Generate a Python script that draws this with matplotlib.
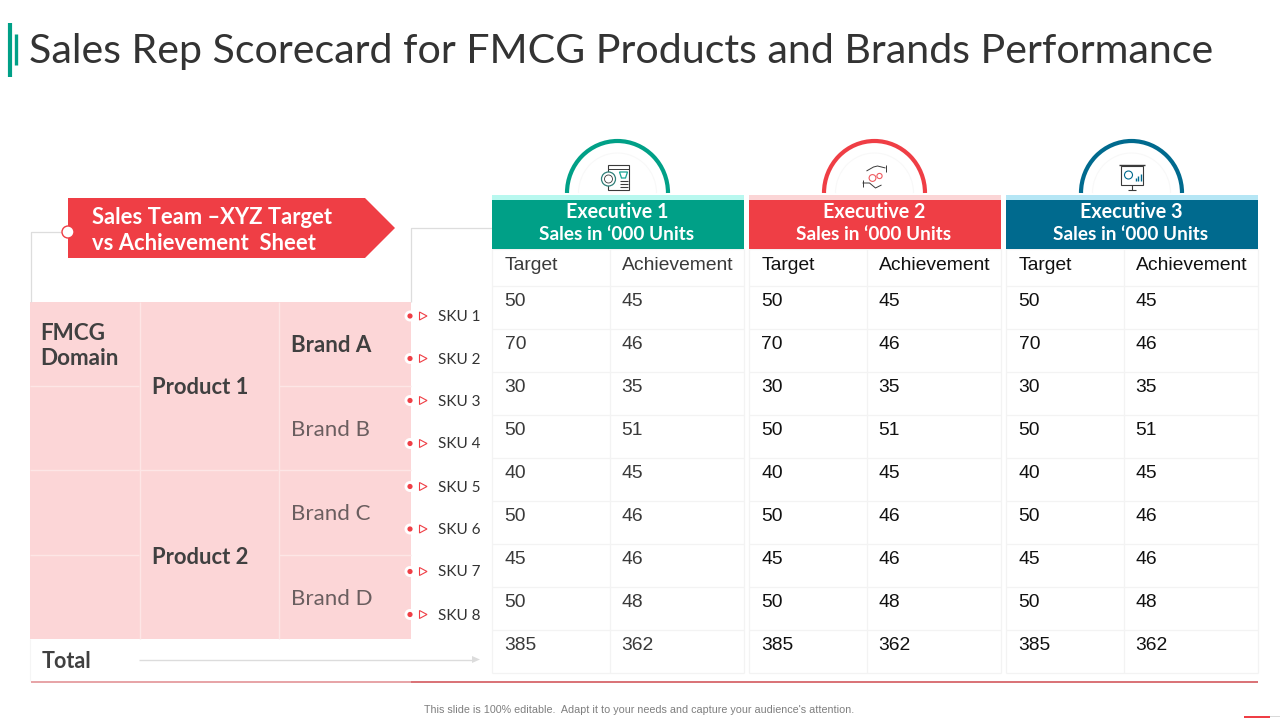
import matplotlib
matplotlib.use("Agg")
import matplotlib.pyplot as plt
from matplotlib.patches import Rectangle, Polygon, Arc, Circle

# values
executives = ["Executive 1", "Executive 2", "Executive 3"]
exec_colors = ["#00A087", "#EF3E45", "#006A8E"]
exec_strips = ["#B8F8EF", "#FBD5D6", "#B5E6F5"]
exec_text = ["#3A3A3A", "#111111", "#111111"]
targets = [50, 70, 30, 50, 40, 50, 45, 50, 385]
achievements = [45, 46, 35, 51, 45, 46, 46, 48, 362]
skus = ["SKU 1", "SKU 2", "SKU 3", "SKU 4", "SKU 5", "SKU 6", "SKU 7", "SKU 8"]
brands = ["Brand A", "Brand B", "Brand C", "Brand D"]
products = ["Product 1", "Product 2"]

HEAD = "Lato"
BODY = "Liberation Sans"
DARK = "#404040"
PINK = "#FCD6D7"
RED = "#EF3E45"
SEP = "#FDE6E6"
GRID = "#F3F3F3"

fig = plt.figure(figsize=(12.8, 7.2), dpi=100)
ax = fig.add_axes([0, 0, 1, 1])
ax.set_xlim(0, 1280)
ax.set_ylim(720, 0)
ax.axis("off")


def box(x0, y0, x1, y1, color, z=1):
    ax.add_patch(Rectangle((x0, y0), x1 - x0, y1 - y0, fc=color, ec="none", zorder=z))


def line(xs, ys, color="#E0E0E0", lw=1.0, z=2):
    ax.plot(xs, ys, color=color, lw=lw, zorder=z, solid_capstyle="butt")


# title and the two green bars
line([10, 10], [23, 77], "#00A087", 3.0)
line([15.5, 15.5], [34, 65], "#00A087", 2.4)
ax.text(29, 51, "Sales Rep Scorecard for FMCG Products and Brands Performance",
        fontsize=29.6, family=HEAD, color="#333333", va="center", ha="left")

# left connector lines
line([31, 31, 68], [302, 231.5, 231.5], "#DDDDDD", 0.9)
line([411, 411, 492], [302, 227.5, 227.5], "#DDDDDD", 0.9)

# red banner
ax.add_patch(Polygon([(68, 198), (365, 198), (395, 228), (365, 258), (68, 258)],
                     fc=RED, ec="none", zorder=3))
ax.add_patch(Circle((68, 232), 6, fc="white", ec=RED, lw=1, zorder=4))
ax.text(92, 217, "Sales Team –XYZ Target", fontsize=15.8, family=HEAD, weight="bold",
        color="white", va="center", zorder=5)
ax.text(92, 243, "vs Achievement  Sheet", fontsize=15.8, family=HEAD, weight="bold",
        color="white", va="center", zorder=5)

# pink block
box(30, 302, 411, 639, PINK)
for xv in [139.5, 278.5]:
    line([xv, xv], [302, 639], SEP, 1.0, 3)
line([30, 139], [386, 386], SEP, 1.0, 3)
line([30, 139], [470, 470], SEP, 1.0, 3)
line([30, 139], [554.5, 554.5], SEP, 1.0, 3)
line([139, 278], [470, 470], SEP, 1.0, 3)
for yv in [386, 470, 554.5]:
    line([279, 411], [yv, yv], SEP, 1.0, 3)

ax.text(40.5, 346, "FMCG\nDomain", fontsize=16.2, family=HEAD, weight="bold", color=DARK,
        va="center", linespacing=1.25, zorder=4)
for label, y in zip(products, [388, 557]):
    ax.text(152, y, label, fontsize=15.8, family=HEAD, weight="bold", color=DARK,
            va="center", zorder=4)
for i, (label, y) in enumerate(zip(brands, [346, 430, 514, 599])):
    ax.text(291, y, label, fontsize=16, family=HEAD, color=DARK if i == 0 else "#6A5E5F",
            va="center", zorder=4, weight="bold" if i == 0 else "normal")

# SKU markers
for label, y in zip(skus, [316, 358.5, 400.5, 443.5, 486.5, 529, 571.5, 614.5]):
    ax.add_patch(Circle((410, y), 5.5, fc="white", ec="none", zorder=4))
    ax.add_patch(Circle((410, y), 2.6, fc=RED, ec="none", zorder=5))
    ax.add_patch(Polygon([(419.5, y - 4), (427, y), (419.5, y + 4)], fc="white", ec=RED,
                         lw=0.8, zorder=5))
    ax.text(438, y + 1, label, fontsize=11, family=HEAD, color="#333333",
            va="center", zorder=5)

# total row and bottom rule
ax.text(42, 661, "Total", fontsize=15.5, family=HEAD, weight="bold", color=DARK, va="center")
line([139, 473], [659.5, 659.5], "#DCDCDC", 1)
ax.add_patch(Polygon([(472, 656), (480, 659.5), (472, 663)], fc="#DCDCDC", ec="none", zorder=3))
line([30, 30], [639, 681], "#F5F5F5", 0.8)
line([31, 411], [681.5, 681.5], "#E08A8E", 1.1)
line([411, 1258], [681.5, 681.5], "#CF4A50", 1.1)

# executive tables
row_tops = [286, 329, 372, 415, 458, 501, 544, 587, 630, 673]
for n, name in enumerate(executives):
    x0 = 492 + 257 * n
    x1 = x0 + 252
    xm = x0 + 118
    cx = x0 + 125.5
    box(x0, 195, x1, 200, exec_strips[n], 3)
    box(x0, 200, x1, 249, exec_colors[n], 3)
    ax.add_patch(Arc((cx, 193), 101, 104, theta1=180, theta2=360, ec=exec_colors[n], lw=3.0, zorder=2))
    ax.add_patch(Arc((cx, 193), 78, 80, theta1=180, theta2=360, ec="#F8F8F8", lw=0.8, zorder=1))
    ax.text(cx, 212, name, fontsize=14.2, family=HEAD, weight="bold", color="white",
            ha="center", va="center", zorder=4)
    ax.text(cx - 1, 235, "Sales in ‘000 Units", fontsize=13.7, family=HEAD, weight="bold", color="white",
            ha="center", va="center", zorder=4)

    # grid
    for y in [249] + row_tops:
        line([x0, x1], [y, y], GRID, 0.9, 1)
    for x in [x0, xm, x1]:
        line([x, x], [249, 673], GRID, 0.9, 1)

    ax.text(x0 + 13, 265.5, "Target", fontsize=13.9, family=BODY, color=exec_text[n], va="center")
    ax.text(xm + 12, 265.5, "Achievement", fontsize=13.9, family=BODY, color=exec_text[n], va="center")
    for top, t, a in zip(row_tops, targets, achievements):
        ax.text(x0 + 12.5, top + 15.5, str(t), fontsize=13.9, family=BODY, color=exec_text[n], va="center")
        ax.text(xm + 11.5, top + 15.5, str(a), fontsize=13.9, family=BODY, color=exec_text[n], va="center")

# icon 1: page with badge and cart
cx = 617.5
ax.add_patch(Rectangle((cx - 10, 165), 21, 25, fc="white", ec="#3A3A3A", lw=0.8, zorder=3))
line([cx - 10, cx + 11], [168.5, 168.5], "#3A3A3A", 0.7, 4)
ax.add_patch(Circle((cx - 9, 179), 7, fc="white", ec="#2E7F78", lw=0.9, zorder=4))
ax.add_patch(Circle((cx - 9, 179), 4, fc="white", ec="#3A3A3A", lw=0.6, zorder=5))
ax.add_patch(Polygon([(cx + 2, 172), (cx + 10, 172), (cx + 8, 178), (cx + 4, 178)],
                     fc="white", ec="#19A594", lw=0.9, zorder=4))
for y in [181, 184, 187]:
    line([cx + 2, cx + 10], [y, y], "#3A3A3A", 0.8, 4)

# icon 2: hands and target
cx = 874.5
line([cx - 8, cx - 1, cx + 3, cx + 11], [171, 167, 166, 168], "#3A3A3A", 0.7, 4)
line([cx - 12, cx - 5, cx + 1, cx + 7], [183, 183, 188, 185], "#3A3A3A", 0.7, 4)
line([cx + 11, cx + 11], [165, 172], "#3A3A3A", 0.7, 4)
line([cx - 12, cx - 12], [180, 187], "#3A3A3A", 0.7, 4)
ax.add_patch(Circle((cx - 2, 178), 3.4, fc="white", ec="#EF5B60", lw=0.8, zorder=4))
ax.add_patch(Circle((cx + 5, 176), 2.6, fc="white", ec="#EF5B60", lw=0.8, zorder=4))

# icon 3: presentation board
cx = 1131.5
ax.add_patch(Rectangle((cx - 11, 166), 22, 19, fc="white", ec="#3A3A3A", lw=0.8, zorder=3))
line([cx - 13, cx + 13], [165, 165], "#3A3A3A", 1.0, 4)
ax.add_patch(Circle((cx - 3, 175), 4, fc="white", ec="#006A8E", lw=0.8, zorder=4))
for x, h in zip([cx + 4, cx + 6.5, cx + 9], [3, 5, 7]):
    line([x, x], [181, 181 - h], "#006A8E", 1.0, 4)
line([cx, cx], [185, 190], "#3A3A3A", 0.8, 4)
line([cx - 4, cx + 4], [190, 190], "#3A3A3A", 0.8, 4)

# footer
ax.text(639.5, 710, "This slide is 100% editable.  Adapt it to your needs and capture your audience's attention.",
        fontsize=7.75, family=BODY, color="#7F7F7F", ha="center", va="center")
box(1244, 716, 1270, 718, RED)
box(1270, 716, 1280, 717, "#D9D9D9")

fig.savefig("out.png", dpi=100)
